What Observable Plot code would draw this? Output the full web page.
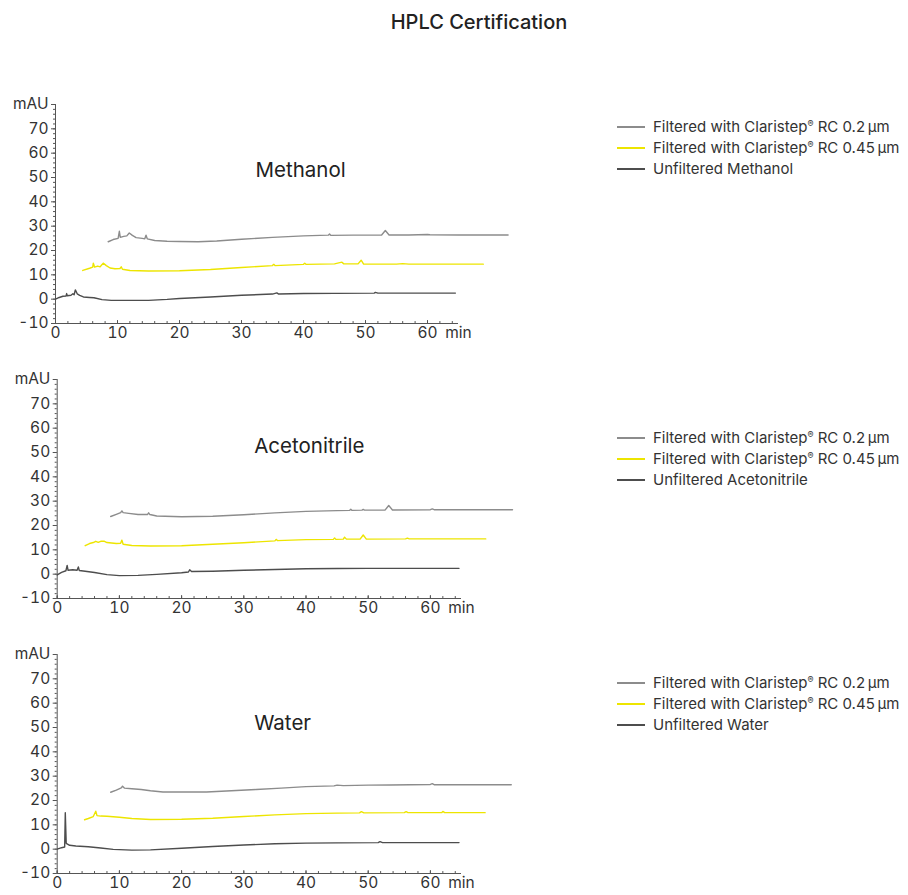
<!DOCTYPE html>
<html><head><meta charset="utf-8">
<script src="https://cdn.jsdelivr.net/npm/d3@7"></script>
<script src="https://cdn.jsdelivr.net/npm/@observablehq/plot@0.6"></script>
<style>
body{margin:0;background:#fff;font-family:Inter,Lato,"Noto Sans",sans-serif;}
#root{position:relative;width:908px;height:895px;overflow:hidden;}
.title{position:absolute;top:10px;left:479px;transform:translateX(-50%);font-size:20px;font-weight:500;color:#222;white-space:nowrap;}
.panel{position:absolute;left:0;}
.panel svg{overflow:visible;}
.legend{position:absolute;left:617px;font-size:15px;color:#333;white-space:nowrap;}
.legend .row{display:flex;align-items:center;height:21px;}
.legend .sw{width:28px;height:2px;margin-right:8px;}
.legend sup{font-size:9px;vertical-align:5px;line-height:0;}
</style></head>
<body><div id="root"><div class="title">HPLC Certification</div></div>
<script>
// ---- data (time in min, absorbance in mAU) ----
const panelNames = ["Methanol", "Acetonitrile", "Water"];
const seriesLabels = ["Filtered with Claristep® RC 0.2\u2009µm", "Filtered with Claristep® RC 0.45\u2009µm", "Unfiltered"];
const seriesColors = ["#8c8c8c", "#ede500", "#4d4d4d"];
const yTicks = [-10, 0, 10, 20, 30, 40, 50, 60, 70, 80];
const yTickLabels = ["-10", "0", "10", "20", "30", "40", "50", "60", "70", "mAU"];
const xTicks = [0, 10, 20, 30, 40, 50, 60, 65];
const xTickLabels = ["0", "10", "20", "30", "40", "50", "60", "min"];
const yMinorTicks = d3.range(-10, 81, 2);
const xMinorTicks = d3.range(0, 65, 2);

const methanol02 = [[8.5,23.6],[9.3,24.5],[10.1,25],[10.3,27.9],[10.45,25.4],[11,25.8],[11.5,26],[11.9,27.2],[12.4,26.2],[13,25.3],[14,25],[14.4,24.8],[14.6,26.3],[14.8,24.8],[16,24.1],[18,23.8],[20,23.7],[23,23.6],[26,23.9],[30,24.6],[35,25.4],[40,26],[44,26.3],[44.2,26.8],[44.4,26.2],[48,26.3],[52.6,26.4],[53.2,28.2],[53.8,26.4],[57,26.4],[60,26.6],[60.4,26.5],[65,26.4],[73,26.4]];
const methanol045 = [[4.4,11.8],[5.5,12.7],[6,13.2],[6.1,14.8],[6.3,13.2],[6.8,13.6],[7.2,13.3],[7.7,14.8],[8.2,13.8],[8.8,12.8],[9.6,12.5],[10.4,12.6],[10.6,13.3],[10.8,12.3],[12,11.8],[15,11.6],[20,11.7],[25,12.2],[30,13],[35,13.8],[35.2,14.3],[35.4,13.8],[40,14.3],[40.2,14.8],[40.4,14.3],[45,14.5],[46.2,15.2],[46.5,14.5],[48.8,14.5],[49.3,16],[49.7,14.4],[55,14.4],[56,14.6],[57,14.4],[69,14.4]];
const methanolUnf = [[0,0],[0.6,0.7],[1.2,1.2],[1.7,1.3],[1.8,2.3],[1.9,1.4],[2.5,1.6],[2.8,2.2],[3.0,1.8],[3.2,3.8],[3.5,2.2],[3.9,1.6],[4.5,0.9],[5.5,0.7],[6.2,0.6],[7.5,-0.2],[9,-0.5],[12,-0.5],[15,-0.5],[18,-0.1],[20,0.3],[25,0.9],[30,1.6],[35,2.1],[35.7,2.6],[36,2.1],[40,2.3],[45,2.4],[51.4,2.5],[51.6,2.8],[52,2.5],[64.5,2.5]];

const acetonitrile02 = [[8.6,23.7],[9.5,24.6],[10.2,25.3],[10.4,26],[10.6,25.3],[11.5,25],[13,24.5],[14.5,24.5],[14.7,25.2],[14.9,24.5],[16,23.9],[20,23.6],[25,23.8],[30,24.4],[35,25.2],[40,25.8],[45,26.1],[47,26.2],[47.2,26.7],[47.4,26.2],[49,26.3],[49.2,26.6],[49.4,26.3],[52.7,26.3],[53.3,28.2],[53.9,26.4],[60,26.5],[60.3,26.8],[60.6,26.5],[73.2,26.5]];
const acetonitrile045 = [[4.5,11.7],[5.2,12.6],[5.8,13],[6.2,13.5],[6.6,13.1],[7,13.5],[7.6,13.5],[8,13],[9.5,12.6],[10.2,12.7],[10.4,14],[10.6,12.3],[12,11.8],[15,11.6],[20,11.7],[25,12.3],[30,12.9],[35,13.7],[35.2,14.3],[35.4,13.8],[40,14.2],[44.4,14.3],[44.6,14.9],[44.8,14.3],[46,14.4],[46.2,15.2],[46.5,14.4],[48.7,14.4],[49.2,16.1],[49.7,14.4],[56,14.5],[56.3,14.8],[56.6,14.5],[68.9,14.5]];
const acetonitrileUnf = [[0,-0.3],[0.7,0.7],[1.4,1.4],[1.6,3.6],[1.75,1.6],[2.5,1.8],[3.2,1.6],[3.4,3],[3.55,1.5],[4.5,1.2],[6,0.7],[8,-0.2],[10,-0.6],[13,-0.5],[16,-0.1],[20,0.6],[21.1,0.9],[21.3,1.8],[21.6,1.1],[25,1.2],[30,1.6],[35,1.9],[40,2.2],[45,2.3],[50,2.4],[64.6,2.4]];

const water02 = [[8.6,23.4],[9.5,24.3],[10.3,25.2],[10.5,25.9],[10.8,25.1],[12,24.8],[13.5,24.5],[15,24],[17,23.5],[20,23.5],[24,23.5],[28,24],[32,24.5],[36,25.1],[40,25.7],[44.5,26],[45,26.3],[46,26.1],[50,26.3],[53.5,26.4],[60,26.6],[60.3,26.9],[60.6,26.5],[73,26.5]];
const water045 = [[4.4,12.1],[5,12.6],[5.8,13.4],[6.2,15.6],[6.4,13.8],[7,13.6],[8,13.5],[10,13.1],[12,12.6],[15,12.2],[20,12.3],[25,12.7],[30,13.4],[35,14.1],[40,14.6],[45,14.8],[48.6,14.9],[48.9,15.4],[49.3,14.9],[55.8,15],[56.1,15.4],[56.4,15],[61.8,15],[62,15.5],[62.3,15],[68.8,15]];
const waterUnf = [[0,0],[0.7,0.6],[1.2,0.9],[1.3,15],[1.45,2.4],[2,1.6],[3,1.3],[5,1],[7,0.5],[9,-0.1],[12,-0.4],[15,-0.3],[20,0.4],[25,1.1],[30,1.7],[35,2.2],[40,2.5],[45,2.6],[51.6,2.7],[51.9,3.1],[52.3,2.7],[64.6,2.7]];

const panelSeries = [
  [methanol02, methanol045, methanolUnf],
  [acetonitrile02, acetonitrile045, acetonitrileUnf],
  [water02, water045, waterUnf]
];

// ---- layout (styles / positions) ----
const layout = [
  {top: 60, left: 55, k: 6.2, labelDx: 200, labelDy: 58, legendTop: 116},
  {top: 335, left: 56.7, k: 6.22, labelDx: 197, labelDy: 59, legendTop: 427},
  {top: 610, left: 56.7, k: 6.22, labelDx: 197, labelDy: 61, legendTop: 672}
];

const root = document.getElementById("root");
const W = 560;
const axisColor = "#555";
const fontStack = "Inter, Lato, 'Noto Sans', sans-serif";

panelNames.forEach((name, p) => {
  const L = layout[p];
  const series = panelSeries[p];
  const marks = [
    Plot.ruleX([0], {stroke: axisColor, strokeWidth: 1}),
    Plot.ruleY([-10], {stroke: axisColor, strokeWidth: 1}),
    Plot.axisY({ticks: yMinorTicks, tickSize: 2, tickFormat: () => "", stroke: axisColor}),
    Plot.axisY({ticks: yTicks, tickSize: 4, tickPadding: 3, stroke: axisColor,
      tickFormat: d => yTickLabels[yTicks.indexOf(d)], fill: "#333"}),
    Plot.ruleX(xMinorTicks, {x: d => d, y1: -10, y2: -9.2, stroke: axisColor}),
    Plot.ruleX(xTicks.filter(d => d <= 60), {x: d => d, y1: -10, y2: -8.8, stroke: axisColor}),
    Plot.axisX({ticks: xTicks, tickSize: 0, tickPadding: 3, fill: "#333",
      tickFormat: d => xTickLabels[xTicks.indexOf(d)]}),
    Plot.text([name], {frameAnchor: "top-left", dx: L.labelDx, dy: L.labelDy, textAnchor: "start",
      fontSize: 20.5, fill: "#222"})
  ];
  series.forEach((pts, i) => {
    marks.push(Plot.line(pts, {x: d => d[0], y: d => d[1], stroke: seriesColors[i], strokeWidth: 1.4}));
  });
  const chart = Plot.plot({
    width: W, height: 293,
    marginLeft: L.left, marginRight: W - L.left - 65 * L.k, marginTop: 44, marginBottom: 30,
    x: {domain: [0, 65], axis: null},
    y: {domain: [-10, 80], axis: null},
    style: {fontFamily: fontStack, fontSize: "15.5px", color: "#333", background: "transparent", overflow: "visible"},
    marks
  });
  const wrap = document.createElement("div");
  wrap.className = "panel";
  wrap.style.top = L.top + "px";
  wrap.appendChild(chart);
  root.appendChild(wrap);

  const leg = document.createElement("div");
  leg.className = "legend";
  leg.style.top = L.legendTop + "px";
  seriesLabels.forEach((lab, i) => {
    const row = document.createElement("div");
    row.className = "row";
    const sw = document.createElement("span");
    sw.className = "sw";
    sw.style.background = seriesColors[i];
    const tx = document.createElement("span");
    const full = i === 2 ? lab + " " + name : lab;
    const parts = full.split("®");
    tx.appendChild(document.createTextNode(parts[0]));
    if (parts.length > 1) {
      const sup = document.createElement("sup");
      sup.textContent = "®";
      tx.appendChild(sup);
      tx.appendChild(document.createTextNode(parts[1]));
    }
    row.appendChild(sw); row.appendChild(tx);
    leg.appendChild(row);
  });
  root.appendChild(leg);
});
</script></body></html>
